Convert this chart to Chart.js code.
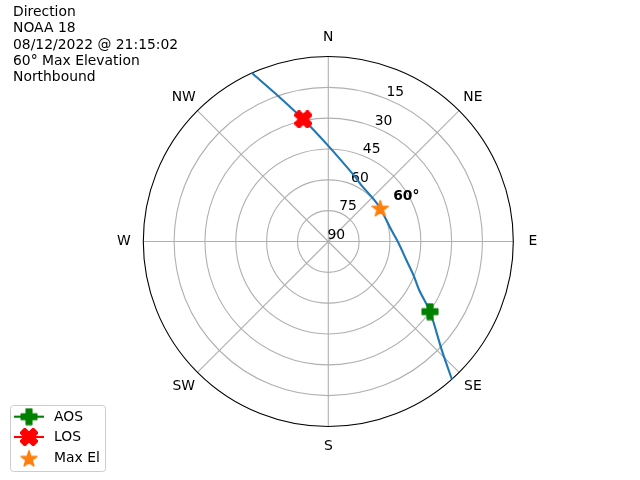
<!DOCTYPE html>
<html>
<head>
<meta charset="utf-8">
<script src="https://cdn.jsdelivr.net/npm/chart.js@4/dist/chart.umd.min.js"></script>
<style>
  html, body { margin: 0; padding: 0; background: #ffffff; }
  canvas { display: block; }
</style>
</head>
<body>
<canvas id="c" width="640" height="480"></canvas>
<script>
// ---- data (azimuth in degrees clockwise from north, elevation in degrees) ----
const trackAzimuth   = [138.1, 133.7, 124.6, 118.1, 111.5, 103.3, 91.0, 79.7, 57.3, 46.3, 30.1, 22.4, 0.0, 348.4, 341.0, 335.6];
const trackElevation = [0.0,   13.7,  29.9,  39.9,  45.5,  51.0,  55.9, 58.8, 60.0, 59.8, 58.2, 55.9, 43.5, 29.3, 15.1, 0.0];
const aosAzimuth = [124.6];
const aosElevation = [29.9];
const losAzimuth = [348.4];
const losElevation = [29.3];
const maxElAzimuth = [57.3];
const maxElElevation = [60.0];
const maxElLabel = '60°';
const compassLabels = ['N', 'NE', 'E', 'SE', 'S', 'SW', 'W', 'NW'];
const radialTicks = [15, 30, 45, 60, 75, 90];
const titleLines = ['Direction', 'NOAA 18', '08/12/2022 @ 21:15:02', '60° Max Elevation', 'Northbound'];
const legendLabels = ['AOS', 'LOS', 'Max El'];

// ---- helpers ----
function toXY(az, el) {
  return az.map((a, i) => {
    const r = 90 - el[i];
    const t = a * Math.PI / 180;
    return { x: r * Math.sin(t), y: r * Math.cos(t) };
  });
}
const FONT = '13.9px "DejaVu Sans", sans-serif';

function makeMarker(type, color, size) {
  const c = document.createElement('canvas');
  c.width = size; c.height = size;
  const g = c.getContext('2d');
  const h = size / 2;
  g.translate(h, h);
  g.fillStyle = color; g.strokeStyle = color;
  g.lineJoin = 'round'; g.lineWidth = 1.5;
  const s = h - 1.2;
  g.beginPath();
  if (type === 'plus' || type === 'x') {
    if (type === 'x') g.rotate(Math.PI / 4);
    const a = type === 'x' ? s * 0.42 : s * 0.36;
    const L = type === 'x' ? s * 1.18 : s;
    g.moveTo(-a, -L); g.lineTo(a, -L); g.lineTo(a, -a); g.lineTo(L, -a);
    g.lineTo(L, a); g.lineTo(a, a); g.lineTo(a, L); g.lineTo(-a, L);
    g.lineTo(-a, a); g.lineTo(-L, a); g.lineTo(-L, -a); g.lineTo(-a, -a);
    g.closePath();
  } else if (type === 'star') {
    const ro = s * 1.08, ri = ro * 0.381966;
    for (let k = 0; k < 10; k++) {
      const rr = k % 2 === 0 ? ro : ri;
      const t = -Math.PI / 2 + k * Math.PI / 5;
      const px = rr * Math.cos(t), py = rr * Math.sin(t) + ro * 0.1;
      if (k === 0) g.moveTo(px, py); else g.lineTo(px, py);
    }
    g.closePath();
  }
  g.fill(); g.stroke();
  return c;
}
const aosMarker = makeMarker('plus', '#008000', 18);
const losMarker = makeMarker('x', '#ff0000', 18);
const starMarker = makeMarker('star', '#ff7f0e', 18);

// ---- polar grid plugin ----
const polarGrid = {
  id: 'polarGrid',
  beforeDatasetsDraw(chart) {
    const ctx = chart.ctx;
    const xs = chart.scales.x, ys = chart.scales.y;
    const cx = xs.getPixelForValue(0), cy = ys.getPixelForValue(0);
    const R = xs.getPixelForValue(90) - cx;
    ctx.save();
    ctx.strokeStyle = '#b0b0b0';
    ctx.lineWidth = 1.1;
    for (let k = 0; k < compassLabels.length; k++) {
      const t = k * 2 * Math.PI / compassLabels.length;
      ctx.beginPath();
      ctx.moveTo(cx, cy);
      ctx.lineTo(cx + R * Math.sin(t), cy - R * Math.cos(t));
      ctx.stroke();
    }
    radialTicks.forEach(el => {
      const r = xs.getPixelForValue(90 - el) - cx;
      if (r > 0.5) {
        ctx.beginPath(); ctx.arc(cx, cy, r, 0, 2 * Math.PI); ctx.stroke();
      }
    });
    ctx.strokeStyle = '#000000';
    ctx.lineWidth = 1.1;
    ctx.beginPath(); ctx.arc(cx, cy, R, 0, 2 * Math.PI); ctx.stroke();
    ctx.fillStyle = '#000000';
    ctx.font = FONT;
    ctx.textAlign = 'center';
    ctx.textBaseline = 'middle';
    compassLabels.forEach((lab, k) => {
      const t = k * 2 * Math.PI / compassLabels.length;
      const rr = R + 19.5;
      ctx.fillText(lab, cx + rr * Math.sin(t), cy - rr * Math.cos(t));
    });
    const ta = 22.5 * Math.PI / 180;
    radialTicks.forEach(el => {
      const r = xs.getPixelForValue(90 - el) - cx;
      ctx.fillText(String(el), cx + r * Math.sin(ta) + 8, cy - r * Math.cos(ta) - 6.6);
    });
    ctx.restore();
  },
  afterDraw(chart) {
    const ctx = chart.ctx;
    const xs = chart.scales.x, ys = chart.scales.y;
    ctx.save();
    ctx.fillStyle = '#000000';
    ctx.textAlign = 'left';
    ctx.textBaseline = 'middle';
    const mp = toXY(maxElAzimuth, maxElElevation)[0];
    ctx.font = 'bold ' + FONT;
    ctx.fillText(maxElLabel, xs.getPixelForValue(mp.x) + 13, ys.getPixelForValue(mp.y) - 11.5);
    ctx.font = FONT;
    titleLines.forEach((line, i) => ctx.fillText(line, 13, 12.5 + i * 16.3));
    const bx = 10.5, by = 405.5, bw = 95, bh = 66, rad = 3;
    ctx.beginPath();
    ctx.moveTo(bx + rad, by);
    ctx.arcTo(bx + bw, by, bx + bw, by + bh, rad);
    ctx.arcTo(bx + bw, by + bh, bx, by + bh, rad);
    ctx.arcTo(bx, by + bh, bx, by, rad);
    ctx.arcTo(bx, by, bx + bw, by, rad);
    ctx.closePath();
    ctx.fillStyle = 'rgba(255,255,255,0.8)';
    ctx.fill();
    ctx.strokeStyle = '#cccccc';
    ctx.lineWidth = 1;
    ctx.stroke();
    const rows = [
      { y: 416.7, color: '#008000', line: true, marker: aosMarker },
      { y: 437.0, color: '#ff0000', line: true, marker: losMarker },
      { y: 458.3, color: '#ff7f0e', line: false, marker: starMarker }
    ];
    rows.forEach((row, i) => {
      if (row.line) {
        ctx.strokeStyle = row.color;
        ctx.lineWidth = 2.1;
        ctx.beginPath(); ctx.moveTo(14, row.y); ctx.lineTo(44, row.y); ctx.stroke();
      }
      ctx.drawImage(row.marker, 29 - row.marker.width / 2, row.y - row.marker.height / 2);
      ctx.fillStyle = '#000000';
      ctx.font = FONT;
      ctx.fillText(legendLabels[i], 54, row.y + 0.5);
    });
    ctx.restore();
  }
};

new Chart(document.getElementById('c'), {
  type: 'scatter',
  data: {
    datasets: [
      {
        label: 'Track',
        data: toXY(trackAzimuth, trackElevation),
        showLine: true,
        borderColor: '#1f77b4',
        borderWidth: 2.1,
        pointRadius: 0,
        tension: 0.3,
        clip: false,
        order: 3
      },
      {
        label: legendLabels[0],
        data: toXY(aosAzimuth, aosElevation),
        pointStyle: aosMarker,
        clip: false,
        order: 1
      },
      {
        label: legendLabels[1],
        data: toXY(losAzimuth, losElevation),
        pointStyle: losMarker,
        clip: false,
        order: 1
      },
      {
        label: legendLabels[2],
        data: toXY(maxElAzimuth, maxElElevation),
        pointStyle: starMarker,
        clip: false,
        order: 0
      }
    ]
  },
  options: {
    responsive: false,
    animation: false,
    devicePixelRatio: 1,
    layout: { padding: { left: 143.3, right: 126.7, top: 56.5, bottom: 53.5 } },
    scales: {
      x: { type: 'linear', min: -90, max: 90, display: false },
      y: { type: 'linear', min: -90, max: 90, display: false }
    },
    plugins: {
      legend: { display: false },
      tooltip: { enabled: false },
      title: { display: false }
    }
  },
  plugins: [polarGrid]
});
</script>
</body>
</html>
